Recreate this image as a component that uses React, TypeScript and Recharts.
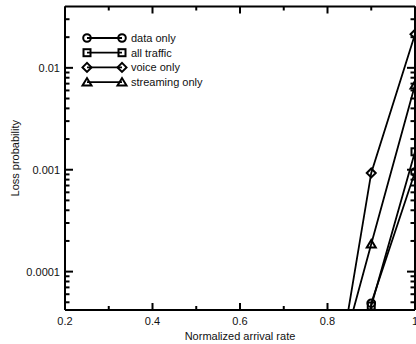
import React from 'react';
import { LineChart, Line, XAxis, YAxis } from 'recharts';

// arrival rates (normalized) and loss probabilities
const rates = [0.8, 0.9, 1.0];
const dataOnly = [1e-8, 4.9e-5, 9.5e-4];
const allTraffic = [1e-8, 4.6e-5, 1.5e-3];
const voiceOnly = [2.5e-6, 9.3e-4, 0.0214];
const streamingOnly = [4.9e-6, 1.87e-4, 0.0068];

const xTicks = [0.2, 0.3, 0.4, 0.5, 0.6, 0.7, 0.8, 0.9, 1.0];
const xLabels = ['0.2', '', '0.4', '', '0.6', '', '0.8', '', '1'];
const yTicks = [
  5e-5, 6e-5, 7e-5, 8e-5, 9e-5,
  1e-4, 2e-4, 3e-4, 4e-4, 5e-4, 6e-4, 7e-4, 8e-4, 9e-4,
  1e-3, 2e-3, 3e-3, 4e-3, 5e-3, 6e-3, 7e-3, 8e-3, 9e-3,
  0.01, 0.02, 0.03,
];
const yMajor = [1e-4, 1e-3, 0.01];
const yLabels = ['0.0001', '0.001', '0.01'];

const series = [
  { key: 'dataOnly', name: 'data only', shape: 'circle' },
  { key: 'allTraffic', name: 'all traffic', shape: 'square' },
  { key: 'voiceOnly', name: 'voice only', shape: 'diamond' },
  { key: 'streamingOnly', name: 'streaming only', shape: 'triangle' },
];

const rows = rates.map((r, i) => ({
  rate: r,
  dataOnly: dataOnly[i],
  allTraffic: allTraffic[i],
  voiceOnly: voiceOnly[i],
  streamingOnly: streamingOnly[i],
}));

const FONT = '"Liberation Sans", Arial, sans-serif';
const SW = 1.8;

function Marker({ cx, cy, shape }: { cx: number; cy: number; shape: string }) {
  const common = { fill: 'none', stroke: '#000', strokeWidth: 2 };
  if (shape === 'circle') return <circle cx={cx} cy={cy} r={3.8} {...common} />;
  if (shape === 'square') return <rect x={cx - 3.5} y={cy - 3.5} width={7} height={7} {...common} />;
  if (shape === 'diamond')
    return <polygon points={`${cx - 4.5},${cy} ${cx},${cy - 4.5} ${cx + 4.5},${cy} ${cx},${cy + 4.5}`} {...common} />;
  return <polygon points={`${cx - 4.5},${cy + 3.5} ${cx},${cy - 4} ${cx + 4.5},${cy + 3.5}`} {...common} />;
}

const makeDot = (shape: string) => (props: any) => {
  const { cx, cy, payload, index } = props;
  if (payload.rate < 0.85 || cx == null || cy == null) return <g key={index} />;
  return <g key={index}><Marker cx={cx} cy={cy} shape={shape} /></g>;
};

const XTick = ({ x, y, payload, side }: any) => {
  const i = xTicks.indexOf(payload.value);
  const major = i % 2 === 0;
  const len = major ? 7 : 4;
  const dir = side === 'bottom' ? -1 : 1;
  return (
    <g>
      <line x1={x} y1={y} x2={x} y2={y + dir * len} stroke="#000" strokeWidth={2} />
      {side === 'bottom' && (
        <text x={x} y={y + 15} textAnchor="middle" fontSize={11} fontFamily={FONT} fill="#111">
          {xLabels[i]}
        </text>
      )}
    </g>
  );
};

const YTick = ({ x, y, payload, side }: any) => {
  const j = yMajor.indexOf(payload.value);
  const len = j >= 0 ? 8 : 4.5;
  const dir = side === 'left' ? 1 : -1;
  return (
    <g>
      <line x1={x} y1={y} x2={x + dir * len} y2={y} stroke="#000" strokeWidth={2} />
      {side === 'left' && j >= 0 && (
        <text x={x - 5} y={y + 4} textAnchor="end" fontSize={11} fontFamily={FONT} fill="#111">
          {yLabels[j]}
        </text>
      )}
    </g>
  );
};

const LegendBox = () => (
  <svg width={150} height={62} style={{ position: 'absolute', left: 80, top: 30 }}>
    {series.map((s, i) => {
      const cy = 8 + i * 14.7;
      return (
        <g key={s.key}>
          <line x1={7} y1={cy} x2={42} y2={cy} stroke="#000" strokeWidth={SW} />
          <Marker cx={7} cy={cy} shape={s.shape} />
          <Marker cx={42} cy={cy} shape={s.shape} />
          <text x={51} y={cy + 4} fontSize={11} fontFamily={FONT} fill="#111">
            {s.name}
          </text>
        </g>
      );
    })}
  </svg>
);

export default function App() {
  const axisLine = { stroke: '#000', strokeWidth: 2 };
  return (
    <div style={{ position: 'absolute', left: 0, top: 0, width: 440, height: 344, background: '#fff' }}>
      <LineChart width={440} height={344} data={rows} margin={{ top: 2, right: 5, bottom: 0, left: 0 }}>
        <XAxis
          xAxisId="bottom"
          dataKey="rate"
          type="number"
          domain={[0.2, 1.0]}
          ticks={xTicks}
          interval={0}
          height={34}
          axisLine={axisLine}
          tickLine={false}
          tickSize={0}
          tickMargin={0}
          tick={<XTick side="bottom" />}
          label={{
            value: 'Normalized arrival rate',
            position: 'insideBottom',
            offset: 4,
            style: { fontSize: 11, fontFamily: FONT, fill: '#111' },
          }}
        />
        <XAxis
          xAxisId="top"
          orientation="top"
          dataKey="rate"
          type="number"
          domain={[0.2, 1.0]}
          ticks={xTicks}
          interval={0}
          height={4.5}
          axisLine={axisLine}
          tickLine={false}
          tickSize={0}
          tickMargin={0}
          tick={<XTick side="top" />}
        />
        <YAxis
          yAxisId="left"
          type="number"
          scale="log"
          domain={[4.2e-5, 0.04]}
          allowDataOverflow
          ticks={yTicks}
          interval={0}
          width={65}
          axisLine={axisLine}
          tickLine={false}
          tickSize={0}
          tickMargin={0}
          tick={<YTick side="left" />}
          label={{
            value: 'Loss probability',
            angle: -90,
            position: 'insideLeft',
            offset: 15,
            style: { fontSize: 11, fontFamily: FONT, fill: '#111', textAnchor: 'middle' },
          }}
        />
        <YAxis
          yAxisId="right"
          orientation="right"
          type="number"
          scale="log"
          domain={[4.2e-5, 0.04]}
          allowDataOverflow
          ticks={yTicks}
          interval={0}
          width={20}
          axisLine={axisLine}
          tickLine={false}
          tickSize={0}
          tickMargin={0}
          tick={<YTick side="right" />}
        />
        {series.map((s) => (
          <Line
            key={s.key}
            xAxisId="bottom"
            yAxisId="left"
            type="linear"
            dataKey={s.key}
            name={s.name}
            stroke="#000"
            strokeWidth={SW}
            dot={makeDot(s.shape)}
            activeDot={false}
            isAnimationActive={false}
          />
        ))}
      </LineChart>
      <LegendBox />
    </div>
  );
}
